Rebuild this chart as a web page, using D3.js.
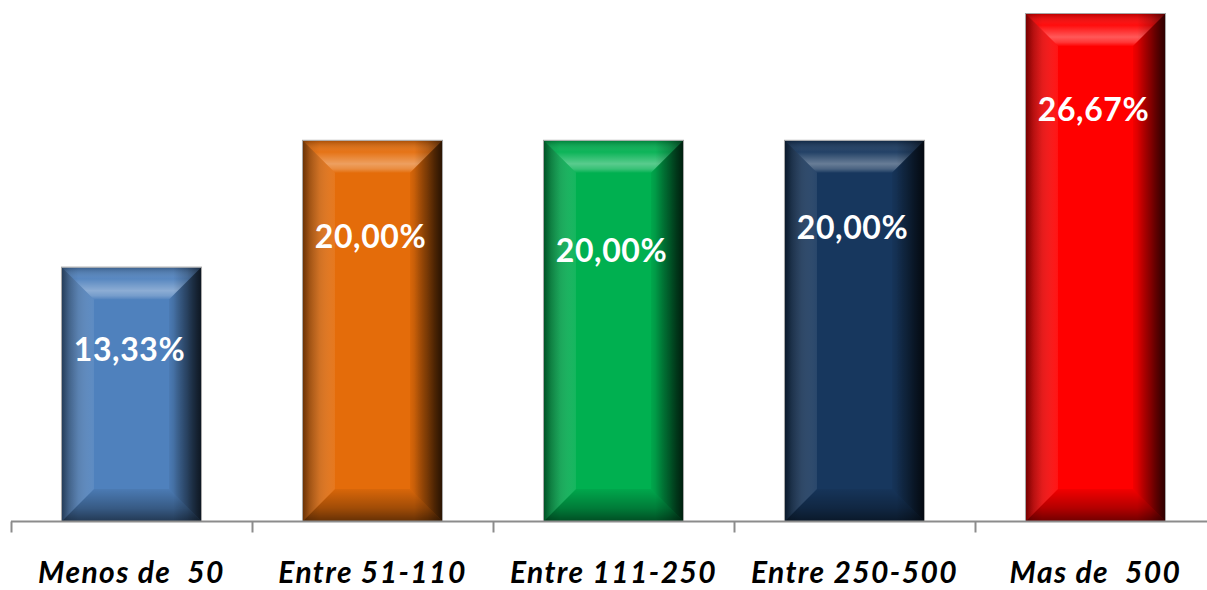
<!DOCTYPE html>
<html><head><meta charset="utf-8">
<script src="https://cdn.jsdelivr.net/npm/d3@7"></script>
<style>body{margin:0;background:#fff}svg{display:block}</style>
</head><body>
<script>
const categories = ["Menos de  50", "Entre 51-110", "Entre 111-250", "Entre 250-500", "Mas de  500"];
const values = [13.33, 20.00, 20.00, 20.00, 26.67];
const valueLabels = ["13,33%", "20,00%", "20,00%", "20,00%", "26,67%"];
const labelAnchors = [9.0, 14.95, 14.25, 15.45, 21.65]; // label centre, in value units
const colors = ["#4F81BD", "#E46C0A", "#00B050", "#17375E", "#FF0000"];

const W = 1207, H = 590;
const svg = d3.select("body").append("svg").attr("width", W).attr("height", H);
const x = d3.scaleBand().domain(categories).range([11, 1216]).paddingInner(0.423).paddingOuter(0.2115);
const y = d3.scaleLinear().domain([0, 26.67]).range([521, 14]);

const defs = svg.append("defs");
const hg = defs.append("linearGradient").attr("id", "side").attr("x1", 0).attr("x2", 1).attr("y1", 0).attr("y2", 0);
[[0, "#000", 0.45], [0.05, "#000", 0.15], [0.12, "#000", 0], [0.8, "#000", 0], [0.9, "#000", 0.35], [1, "#000", 0.9]]
  .forEach(([o, c, a]) => hg.append("stop").attr("offset", o).attr("stop-color", c).attr("stop-opacity", a));
const tg = defs.append("linearGradient").attr("id", "topb").attr("x1", 0).attr("x2", 0).attr("y1", 0).attr("y2", 1);
[[0, "#000", 0.25], [0.35, "#fff", 0.05], [0.72, "#fff", 0.35], [0.88, "#fff", 0.22], [1, "#fff", 0.02]]
  .forEach(([o, c, a]) => tg.append("stop").attr("offset", o).attr("stop-color", c).attr("stop-opacity", a));
const bg = defs.append("linearGradient").attr("id", "botb").attr("x1", 0).attr("x2", 0).attr("y1", 0).attr("y2", 1);
[[0, "#000", 0.05], [0.6, "#000", 0.3], [1, "#000", 0.55]]
  .forEach(([o, c, a]) => bg.append("stop").attr("offset", o).attr("stop-color", c).attr("stop-opacity", a));
const lg = defs.append("linearGradient").attr("id", "leftb").attr("x1", 0).attr("x2", 1).attr("y1", 0).attr("y2", 0);
[[0, "#000", 0.35], [1, "#fff", 0.08]]
  .forEach(([o, c, a]) => lg.append("stop").attr("offset", o).attr("stop-color", c).attr("stop-opacity", a));
const rg = defs.append("linearGradient").attr("id", "rightb").attr("x1", 0).attr("x2", 1).attr("y1", 0).attr("y2", 0);
[[0, "#000", 0.05], [1, "#000", 0.6]]
  .forEach(([o, c, a]) => rg.append("stop").attr("offset", o).attr("stop-color", c).attr("stop-opacity", a));

const data = categories.map((c, i) => ({c, v: values[i], lab: valueLabels[i], la: labelAnchors[i], col: colors[i]}));
const bw = x.bandwidth(), b = 32;

const g = svg.selectAll("g.bar").data(data).join("g").attr("class", "bar");
g.each(function(d) {
  const s = d3.select(this);
  const x0 = x(d.c), y0 = y(d.v), y1 = y(0), x1 = x0 + bw;
  s.append("rect").attr("x", x0).attr("y", y0).attr("width", bw).attr("height", y1 - y0).attr("fill", d.col);
  s.append("polygon").attr("points", [[x0, y0], [x1, y0], [x1 - b, y0 + b], [x0 + b, y0 + b]].join(" ")).attr("fill", "url(#topb)");
  s.append("polygon").attr("points", [[x0, y1], [x1, y1], [x1 - b, y1 - b], [x0 + b, y1 - b]].join(" ")).attr("fill", "url(#botb)");
  s.append("polygon").attr("points", [[x0, y0], [x0 + b, y0 + b], [x0 + b, y1 - b], [x0, y1]].join(" ")).attr("fill", "url(#leftb)");
  s.append("polygon").attr("points", [[x1, y0], [x1 - b, y0 + b], [x1 - b, y1 - b], [x1, y1]].join(" ")).attr("fill", "url(#rightb)");
  s.append("rect").attr("x", x0).attr("y", y0).attr("width", bw).attr("height", y1 - y0).attr("fill", "url(#side)").attr("opacity", 0.6);
  s.append("rect").attr("x", x0 - 0.5).attr("y", y0 - 0.5).attr("width", bw + 1).attr("height", y1 - y0 + 1)
    .attr("fill", "none").attr("stroke", "#a6a6a6").attr("stroke-width", 1);
  s.append("text").attr("x", x0 + bw / 2 - 2).attr("y", y(d.la)).attr("dy", "0.36em").attr("text-anchor", "middle")
    .attr("fill", "#fff").attr("font-family", "Lato, 'DejaVu Sans', sans-serif").attr("font-weight", "bold")
    .attr("font-size", 32).attr("letter-spacing", 0.6).text(d.lab);
});

const axis = d3.axisBottom(x).tickSize(0).tickPadding(0).tickFormat("");
const ax = svg.append("g").attr("transform", "translate(0,521.5)").call(axis);
ax.select(".domain").attr("stroke", "#8c8c8c").attr("stroke-width", 2).attr("d", "M11,0H1216");
const bounds = categories.map(c => x(c) - x.step() * x.paddingInner() / 2);
ax.selectAll("line.bnd").data(bounds).join("line").attr("class", "bnd")
  .attr("x1", d => Math.round(d - x.step() * x.paddingOuter() + x.step() * x.paddingInner() / 2) + 0.5)
  .attr("x2", d => Math.round(d - x.step() * x.paddingOuter() + x.step() * x.paddingInner() / 2) + 0.5)
  .attr("y1", 0).attr("y2", 11).attr("stroke", "#8c8c8c").attr("stroke-width", 2);
svg.append("g").selectAll("text").data(categories).join("text")
  .attr("x", d => x(d) + bw / 2).attr("y", 583).attr("text-anchor", "middle")
  .attr("font-family", "Lato, 'DejaVu Sans', sans-serif").attr("font-weight", "bold").attr("font-style", "italic")
  .attr("font-size", 30).attr("letter-spacing", 1.4).attr("fill", "#000").style("white-space", "pre").text(d => d);
</script>
</body></html>
